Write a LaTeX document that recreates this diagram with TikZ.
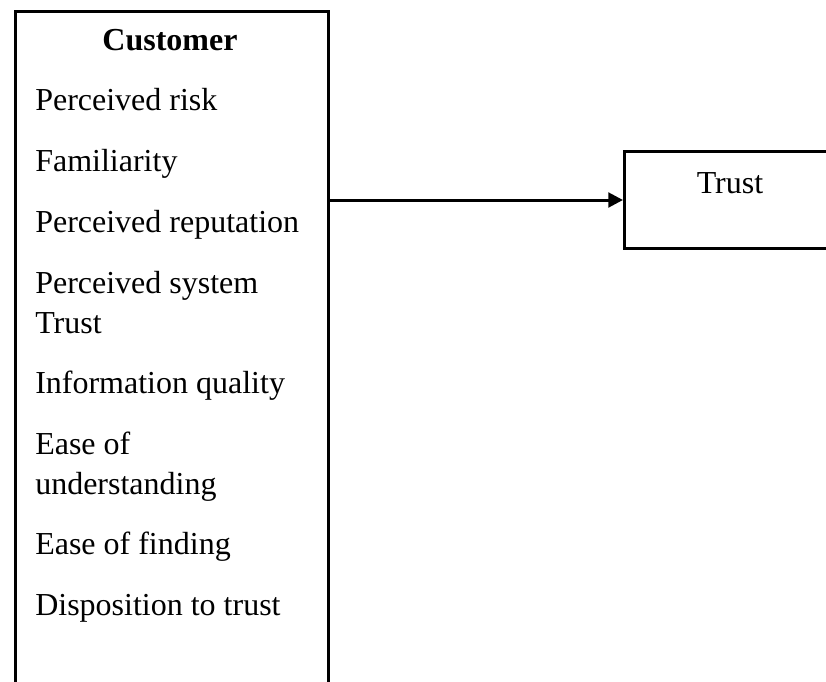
\documentclass[tikz,border=0pt]{standalone}
\usepackage{fontspec}
\setmainfont{Liberation Serif}
\usetikzlibrary{arrows.meta}
\begin{document}
\begin{tikzpicture}[x=0.75pt,y=-0.75pt,
  frame/.style={draw=black,line width=2.25pt,rectangle,inner sep=0pt},
  item/.style={anchor=base west,inner sep=0pt,font=\fontsize{24}{30}\selectfont},
  link/.style={line width=2.25pt,-{Triangle[length=11pt,width=11pt]}}]
  \useasboundingbox (0,0) rectangle (826,682);
  \clip (0,0) rectangle (826,682);
  % boxes (both run past the page edge)
  \node[frame,minimum width=313*0.75pt,minimum height=700*0.75pt,anchor=north west] (cust) at (14,10) {};
  \node[frame,minimum width=240*0.75pt,minimum height=97*0.75pt,anchor=north west] (trust) at (623,150) {};
  % heading and factor list
  \node[anchor=base,inner sep=0pt,font=\fontsize{24}{30}\selectfont\bfseries] (head) at (170,50) {Customer};
  \node[item] (f1) at (35,110) {Perceived risk};
  \node[item] (f2) at (35,171) {Familiarity};
  \node[item] (f3) at (35,232) {Perceived reputation};
  \node[item] (f4a) at (35,293) {Perceived system};
  \node[item] (f4b) at (35,333) {Trust};
  \node[item] (f5) at (35,393) {Information quality};
  \node[item] (f6a) at (35,454) {Ease of};
  \node[item] (f6b) at (35,494) {understanding};
  \node[item] (f7) at (35,554) {Ease of finding};
  \node[item] (f8) at (35,615) {Disposition to trust};
  % outcome label
  \node[anchor=base,inner sep=0pt,font=\fontsize{24}{30}\selectfont] (tlabel) at (730,193) {Trust};
  % connector
  \draw[link] (trust.west -| cust.east) -- (trust.west);
\end{tikzpicture}
\end{document}
